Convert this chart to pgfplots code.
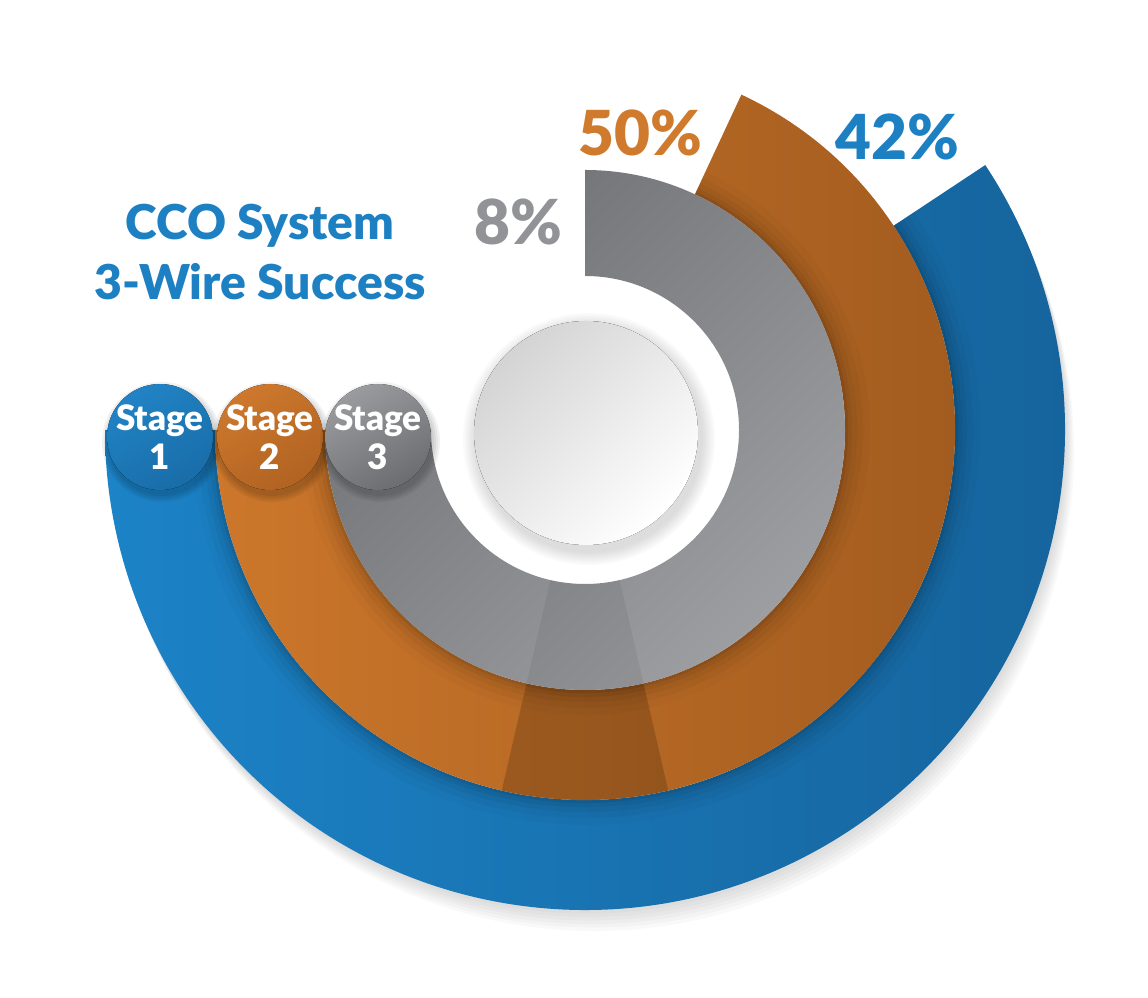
\documentclass[border=0pt]{standalone}
\usepackage{pgfplots}
\usepackage{pgfplotstable}
\pgfplotsset{compat=1.18}
\usepackage{fontspec}
\setmainfont{Lato}[BoldFont={Lato Black}]

\definecolor{blueL}{HTML}{1C83C7}
\definecolor{blueD}{HTML}{15629A}
\definecolor{orangeL}{HTML}{CC772B}
\definecolor{orangeD}{HTML}{A05A1E}
\definecolor{grayD}{HTML}{6F7074}
\definecolor{grayL}{HTML}{9D9EA1}
\definecolor{txtblue}{HTML}{1D80C3}
\definecolor{txtorange}{HTML}{CF7A2C}
\definecolor{txtgray}{HTML}{929396}
\definecolor{c1L}{HTML}{2183C5}
\definecolor{c1D}{HTML}{196DA8}
\definecolor{c2L}{HTML}{CD782D}
\definecolor{c2D}{HTML}{B16322}
\definecolor{c3L}{HTML}{9A9B9E}
\definecolor{c3D}{HTML}{6C6D71}

% ring geometry (angles in degrees, radii in px-units)
\pgfplotstableread{
row start stop rin rout
0 33.5 -180 370 480
1 65   -180 260 370
2 90   -180 154 260
}\rings

\newcommand\getring[1]{%
  \pgfplotstablegetelem{#1}{start}\of\rings\edef\sa{\pgfplotsretval}%
  \pgfplotstablegetelem{#1}{stop}\of\rings\edef\ea{\pgfplotsretval}%
  \pgfplotstablegetelem{#1}{rin}\of\rings\edef\ri{\pgfplotsretval}%
  \pgfplotstablegetelem{#1}{rout}\of\rings\edef\ro{\pgfplotsretval}}
\newcommand\sector[5]{%
  \path[#1] (#2:#5pt) arc[start angle=#2, end angle=#3, radius=#5pt]
    -- (#3:#4pt) arc[start angle=#3, end angle=#2, radius=#4pt] -- cycle;}
\newcommand\edgeshadow{%
  \foreach \k/\o in {3/0.07,7/0.05,12/0.04,18/0.03,25/0.02}{%
    \pgfmathsetmacro\rr{\ri+\k}%
    \sector{fill=black, fill opacity=\o}{\sa}{\ea}{\ri}{\rr}}}
\newcommand\stagecircle[3]{% x, light, dark
  \foreach \k in {2,4,6,8}{%
    \fill[black, fill opacity=0.05] (#1pt+2pt,-12pt) circle[radius=52pt+\k pt];}
  \fill[top color=#2, bottom color=#3, shading angle=30] (#1pt,-7pt) circle[radius=53pt];}

\pgfplotsset{base/.style={x=1pt, y=1pt, xmin=-585, xmax=563, ymin=-559, ymax=430, hide axis, clip=false}}

\begin{document}
\begin{tikzpicture}
\begin{axis}[base]
\coordinate (O) at (axis cs:0,0);
\coordinate (SW) at (axis cs:-585,-559);
\coordinate (NE) at (axis cs:563,430);
\end{axis}
\path (SW) rectangle (NE);
\begin{scope}[shift={(O)}]
  \getring{0}
  \foreach \k in {1,...,6}{%
    \sector{fill=black, fill opacity=0.025, shift={(1.5*\k pt,-3.5*\k pt)}}{\sa}{\ea}{\ri}{\ro}}
  \sector{left color=blueL, right color=blueD}{\sa}{\ea}{\ri}{\ro}
  \edgeshadow
  \getring{1}
  \sector{left color=orangeL, right color=orangeD}{\sa}{\ea}{\ri}{\ro}
  \sector{fill=black, fill opacity=0.17}{-77}{-103}{\ri}{\ro}
  \edgeshadow
  \getring{2}
  \sector{top color=grayD, bottom color=grayL, shading angle=45}{\sa}{\ea}{\ri}{\ro}
  \sector{fill=black, fill opacity=0.06}{-77}{-103}{\ri}{\ro}
  \foreach \k in {2,4,...,14}{%
    \fill[black, fill opacity=0.018] (4pt,-9pt) circle[radius=112pt+\k pt];}
  \fill[top color=black!17, bottom color=white, shading angle=45] (1pt,-3pt) circle[radius=112pt];
  \stagecircle{-425}{c1L}{c1D}
  \stagecircle{-315}{c2L}{c2D}
  \stagecircle{-207}{c3L}{c3D}
\end{scope}

\begin{axis}[base]
\node[text=white, align=center, font=\fontsize{35}{39}\selectfont\bfseries] at (axis cs:-425,-7) {Stage\\1};
\node[text=white, align=center, font=\fontsize{35}{39}\selectfont\bfseries] at (axis cs:-315,-7) {Stage\\2};
\node[text=white, align=center, font=\fontsize{35}{39}\selectfont\bfseries] at (axis cs:-207,-7) {Stage\\3};

\node[text=txtblue, align=center, font=\fontsize{48}{60}\selectfont\bfseries] at (axis cs:-325,178) {CCO System\\3-Wire Success};

\addplot[draw=none, mark=none, nodes near coords, point meta=explicit symbolic,
  nodes near coords style={anchor=center, text=txtgray, font=\fontsize{62}{62}\selectfont\bfseries}]
  coordinates {(-67,208)[8\%]};
\addplot[draw=none, mark=none, nodes near coords, point meta=explicit symbolic,
  nodes near coords style={anchor=center, text=txtorange, font=\fontsize{62}{62}\selectfont\bfseries}]
  coordinates {(55,297)[50\%]};
\addplot[draw=none, mark=none, nodes near coords, point meta=explicit symbolic,
  nodes near coords style={anchor=center, text=txtblue, font=\fontsize{62}{62}\selectfont\bfseries}]
  coordinates {(312,293)[42\%]};
\end{axis}
\end{tikzpicture}
\end{document}
